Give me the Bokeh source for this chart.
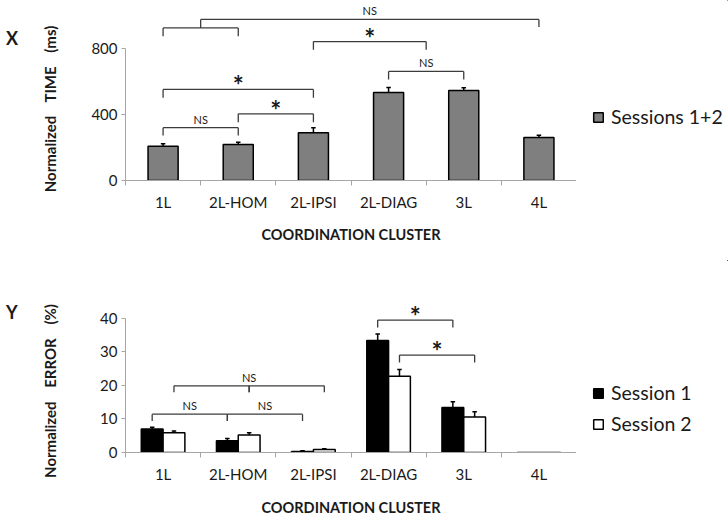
from bokeh.plotting import figure
from bokeh.models import FixedTicker, Legend, LegendItem, Label, Range1d, Div
from bokeh.layouts import column, row
from bokeh.embed import file_html
from bokeh.resources import INLINE

# ---------------- data ----------------
categories = ["1L", "2L-HOM", "2L-IPSI", "2L-DIAG", "3L", "4L"]
cat_pos = [1, 2, 3, 4, 5, 6]

time_mean = [208, 218, 289, 533, 545, 261]
time_err = [14, 14, 30, 30, 17, 14]
time_ticks = [0, 400, 800]

err_s1 = [7.0, 3.5, 0.3, 33.3, 13.4, 0.0]
err_s1_sd = [0.5, 0.7, 0.2, 2.0, 1.7, 0.0]
err_s2 = [5.9, 5.2, 0.9, 22.7, 10.6, 0.0]
err_s2_sd = [0.5, 0.7, 0.2, 2.0, 1.5, 0.0]
error_ticks = [0, 10, 20, 30, 40]

# significance brackets, top panel: x0, x1, line y, tip y at x0, tip y at x1
top_br_x0 = [1, 2, 1, 3, 4, 1, 1.5]
top_br_x1 = [2, 3, 3, 4.5, 5, 2, 6]
top_br_y = [320, 404, 552, 842, 661, 925, 976]
top_br_t0 = [273, 353, 501, 792, 612, 875, 925]
top_br_t1 = [273, 353, 501, 792, 612, 875, 930]
top_lab_x = [1.5, 2.5, 2, 3.75, 4.5, 3.75]
top_lab_y = [320, 404, 552, 842, 661, 976]
top_lab_txt = ["NS", "*", "*", "*", "NS", "NS"]

# bottom panel brackets
bot_br_x0 = [0.855, 1.855, 1.145, 2.145, 3.855, 4.145]
bot_br_x1 = [1.855, 2.855, 2.145, 3.145, 4.855, 5.145]
bot_br_y = [11.4, 11.4, 19.85, 19.85, 39.4, 29.0]
bot_br_t0 = [9.4, 9.4, 17.9, 17.9, 37.2, 26.8]
bot_br_t1 = [9.4, 9.4, 17.9, 17.9, 37.2, 26.8]
bot_lab_x = [1.355, 2.355, 2.145, 4.355, 4.645]
bot_lab_y = [11.4, 11.4, 19.85, 39.4, 29.0]
bot_lab_txt = ["NS", "NS", "NS", "*", "*"]

# ---------------- style ----------------
FONT = "Lato"
AXC = "#a6a6a6"
LINEC = "#3c3c3c"
TXT = "#1a1a1a"
GREY = "#7f7f7f"
DL = 85            # width of left text column
LEGW = 152         # width of legend column
FRAME_LEFT = 125
MAINW = 728 - DL - LEGW
XR = (0.5, 6.5)
DODGE = 0.145


def styled(height, yend, ticks, ybound, border_bottom, tl_standoff, ax_standoff):
    p = figure(width=MAINW, height=height, x_range=Range1d(*XR), y_range=Range1d(0, yend),
               output_backend="svg", toolbar_location=None,
               min_border_left=FRAME_LEFT - DL, min_border_right=0, min_border_top=0,
               min_border_bottom=border_bottom)
    p.outline_line_color = None
    p.grid.visible = False
    xa = p.xaxis[0]
    xa.ticker = FixedTicker(ticks=cat_pos, minor_ticks=[c - 0.5 for c in cat_pos] + [cat_pos[-1] + 0.5])
    xa.major_label_overrides = {c: n for c, n in zip(cat_pos, categories)}
    xa.axis_line_color = AXC
    xa.major_tick_out = 0
    xa.major_tick_in = 0
    xa.minor_tick_out = 5
    xa.minor_tick_in = 0
    xa.minor_tick_line_color = AXC
    xa.major_label_text_font = FONT
    xa.major_label_text_font_size = "15px"
    xa.major_label_text_color = TXT
    xa.major_label_standoff = tl_standoff
    xa.axis_label = "COORDINATION CLUSTER"
    xa.axis_label_text_font = FONT
    xa.axis_label_text_font_style = "bold"
    xa.axis_label_text_font_size = "14.5px"
    xa.axis_label_text_color = TXT
    xa.axis_label_standoff = ax_standoff
    ya = p.yaxis[0]
    ya.ticker = FixedTicker(ticks=ticks)
    ya.bounds = ybound
    ya.axis_line_color = AXC
    ya.major_tick_line_color = AXC
    ya.major_tick_out = 4
    ya.major_tick_in = 0
    ya.minor_tick_line_color = None
    ya.major_label_text_font = FONT
    ya.major_label_text_font_size = "15px"
    ya.major_label_text_color = TXT
    ya.major_label_standoff = 4
    return p


def brackets(p, x0, x1, y, t0, t1, lx, ly, lt):
    p.segment(x0, y, x1, y, line_color=LINEC, line_width=1.3)
    p.segment(x0, y, x0, t0, line_color=LINEC, line_width=1.3)
    p.segment(x1, y, x1, t1, line_color=LINEC, line_width=1.3)
    for x, yy, t in zip(lx, ly, lt):
        if t == "NS":
            lab = Label(x=x, y=yy, text=t, text_font=FONT, text_font_size="11px",
                        text_color=TXT, text_align="center", text_baseline="bottom", y_offset=2)
        else:
            lab = Label(x=x, y=yy, text=t, text_font=FONT, text_font_size="26px", text_font_style="bold",
                        text_color=TXT, text_align="center", text_baseline="middle", y_offset=4)
        p.add_layout(lab)


def errorbars(p, xs, tops, errs, cap=0.03):
    xs2, y0, y1 = [], [], []
    for x, m, e in zip(xs, tops, errs):
        if m > 0:
            xs2.append(x); y0.append(m); y1.append(m + e)
    p.segment(xs2, y0, xs2, y1, line_color="black", line_width=1.5)
    p.segment([x - cap for x in xs2], y1, [x + cap for x in xs2], y1, line_color="black", line_width=1.5)


def left_column(letter, letter_top, title, title_cy, height):
    html = (
        f'<div style="position:absolute;left:6px;top:{letter_top}px;font-family:Lato;'
        f'font-weight:bold;font-size:18px;line-height:1.2;color:{TXT}">{letter}</div>'
        f'<div style="position:absolute;left:50px;top:{title_cy}px;white-space:nowrap;'
        f'transform:translate(-50%,-50%) rotate(-90deg);font-family:Lato;font-weight:bold;'
        f'font-size:15px;line-height:1.2;word-spacing:10px;color:{TXT}">{title}</div>'
    )
    return Div(text=html, width=DL, height=height, margin=0,
               styles={"position": "relative", "overflow": "visible"})


def legend_column(height, series, loc_y):
    # separate legend area; its frame is aligned with the main plot's frame by the row layout.
    # The swatch renderers reuse the panel's own data but lie outside this area's ranges.
    lf = figure(width=LEGW, height=height, x_range=Range1d(-30, -20), y_range=Range1d(-30, -20),
                output_backend="svg", toolbar_location=None, min_border=0,
                x_axis_location=None, y_axis_location=None)
    lf.outline_line_color = None
    lf.grid.visible = False
    items = []
    for label, xs, tops, fill in series:
        r = lf.vbar(x=xs, top=tops, width=0.4, fill_color=fill, line_color="black", line_width=1.5)
        items.append(LegendItem(label=label, renderers=[r]))
    lf.add_layout(Legend(items=items, location=(16, loc_y),
                         glyph_width=12, glyph_height=12, label_standoff=7, padding=0, margin=0,
                         spacing=8, border_line_color=None, background_fill_alpha=0,
                         label_text_font=FONT, label_text_font_size="19.5px", label_text_color=TXT))
    return lf


# ---------------- top panel: TIME ----------------
top = styled(260, 180 / 0.165, time_ticks, (0, 800), 80, 7, 12)
top.vbar(x=cat_pos, top=time_mean, width=0.4, fill_color=GREY, line_color="black", line_width=1.5)
errorbars(top, cat_pos, time_mean, time_err)
brackets(top, top_br_x0, top_br_x1, top_br_y, top_br_t0, top_br_t1, top_lab_x, top_lab_y, top_lab_txt)

# ---------------- bottom panel: ERROR ----------------
bot = styled(261, 192 / 3.36, error_ticks, (0, 40), 69, 7, 13)
x1 = [c - DODGE for c in cat_pos]
x2 = [c + DODGE for c in cat_pos]
bot.vbar(x=x1, top=err_s1, width=0.29, fill_color="black", line_color="black", line_width=1.5)
bot.vbar(x=x2, top=err_s2, width=0.29, fill_color="white", line_color="black", line_width=1.5)
errorbars(bot, x1, err_s1, err_s1_sd)
errorbars(bot, x2, err_s2, err_s2_sd)
brackets(bot, bot_br_x0, bot_br_x1, bot_br_y, bot_br_t0, bot_br_t1, bot_lab_x, bot_lab_y, bot_lab_txt)

row_top = row(left_column("X", 28, "Normalized TIME (ms)", 109, 260), top,
              legend_column(260, [("Sessions 1+2", cat_pos, time_mean, GREY)], 52), spacing=0)
row_bot = row(left_column("Y", 42, "Normalized ERROR (%)", 131, 261), bot,
              legend_column(261, [("Session 1", x1, err_s1, "black"),
                                  ("Session 2", x2, err_s2, "white")], 17), spacing=0)
layout = column(row_top, row_bot, spacing=0)
open("out.html", "w").write(file_html(layout, INLINE))
